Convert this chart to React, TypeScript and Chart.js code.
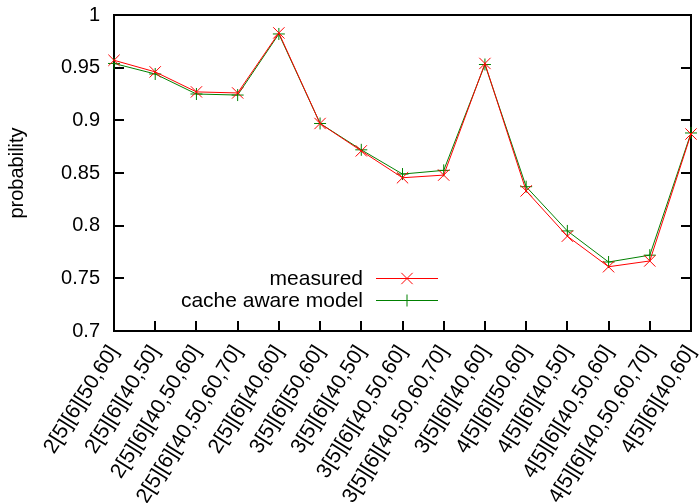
import React, { useEffect, useRef } from "react";
import { Chart, registerables } from "chart.js";

Chart.register(...registerables);

const categories = [
  "2[5][6][50,60]",
  "2[5][6][40,50]",
  "2[5][6][40,50,60]",
  "2[5][6][40,50,60,70]",
  "2[5][6][40,60]",
  "3[5][6][50,60]",
  "3[5][6][40,50]",
  "3[5][6][40,50,60]",
  "3[5][6][40,50,60,70]",
  "3[5][6][40,60]",
  "4[5][6][50,60]",
  "4[5][6][40,50]",
  "4[5][6][40,50,60]",
  "4[5][6][40,50,60,70]",
  "4[5][6][40,60]",
];

const measured = [0.957, 0.946, 0.927, 0.926, 0.983, 0.897, 0.871, 0.8455, 0.848, 0.954, 0.833, 0.79, 0.761, 0.7665, 0.887];
const cacheAwareModel = [0.954, 0.944, 0.925, 0.924, 0.982, 0.897, 0.872, 0.849, 0.8525, 0.953, 0.837, 0.795, 0.7655, 0.772, 0.888];

const yMin = 0.7;
const yMax = 1;
const yStep = 0.05;

const seriesNames = ["measured", "cache aware model"];
const seriesColors = ["#ff0000", "#008000"];
const FONT = "'Liberation Sans', Arial, sans-serif";

const framePlugin = {
  id: "frame",
  beforeDatasetsDraw(chart: any) {
    const { ctx, chartArea } = chart;
    const { left, right, top, bottom } = chartArea;
    const ys = chart.scales.y;
    const xs = chart.scales.x;
    ctx.save();
    ctx.strokeStyle = "#000";
    ctx.lineWidth = 2;
    ctx.beginPath();
    ys.ticks.forEach((t: any) => {
      const py = Math.round(ys.getPixelForValue(t.value));
      ctx.moveTo(left, py);
      ctx.lineTo(left + 10, py);
      ctx.moveTo(right, py);
      ctx.lineTo(right - 10, py);
    });
    categories.forEach((_, i) => {
      const px = Math.round(xs.getPixelForValue(i));
      ctx.moveTo(px, bottom);
      ctx.lineTo(px, bottom - 10);
    });
    ctx.stroke();
    ctx.strokeRect(left, top, right - left, bottom - top);
    ctx.restore();
  },
  afterDraw(chart: any) {
    const { ctx } = chart;
    const rows = [278, 300];
    const styles = ["crossRot", "cross"];
    const radii = [8, 6];
    ctx.save();
    ctx.font = `21px ${FONT}`;
    ctx.textAlign = "right";
    ctx.textBaseline = "middle";
    seriesNames.forEach((name, i) => {
      const y = rows[i];
      ctx.fillStyle = "#000";
      ctx.fillText(name, 363, y + 1);
      ctx.strokeStyle = seriesColors[i];
      ctx.lineWidth = 1;
      ctx.beginPath();
      ctx.moveTo(376, y + 0.5);
      ctx.lineTo(438, y + 0.5);
      if (styles[i] === "crossRot") {
        const d = radii[i] * Math.SQRT1_2;
        ctx.moveTo(407 - d, y + 0.5 - d);
        ctx.lineTo(407 + d, y + 0.5 + d);
        ctx.moveTo(407 - d, y + 0.5 + d);
        ctx.lineTo(407 + d, y + 0.5 - d);
      } else {
        ctx.moveTo(407, y + 0.5 - radii[i]);
        ctx.lineTo(407, y + 0.5 + radii[i]);
      }
      ctx.stroke();
    });
    ctx.restore();
  },
};

export default function App() {
  const ref = useRef<HTMLCanvasElement>(null);
  useEffect(() => {
    document.body.style.margin = "0";
    Chart.defaults.font.family = FONT;
    const chart = new Chart(ref.current!, {
      type: "line",
      data: {
        labels: categories,
        datasets: [
          {
            label: seriesNames[0],
            data: measured,
            borderColor: seriesColors[0],
            backgroundColor: seriesColors[0],
            borderWidth: 1,
            pointStyle: "crossRot",
            pointRadius: 8,
            pointBorderWidth: 1,
            pointBorderColor: seriesColors[0],
            tension: 0,
            clip: false as any,
          },
          {
            label: seriesNames[1],
            data: cacheAwareModel,
            borderColor: seriesColors[1],
            backgroundColor: seriesColors[1],
            borderWidth: 1,
            pointStyle: "cross",
            pointRadius: 6,
            pointBorderWidth: 1,
            pointBorderColor: seriesColors[1],
            tension: 0,
            clip: false as any,
          },
        ],
      },
      options: {
        animation: false,
        responsive: false,
        layout: { padding: { top: 15, right: 6, left: 0, bottom: 0 } },
        plugins: {
          legend: { display: false },
          tooltip: { enabled: false },
        },
        scales: {
          x: {
            type: "category",
            offset: false,
            grid: { display: false, drawTicks: false },
            border: { display: false },
            ticks: {
              color: "#000",
              font: { size: 21, family: FONT },
              minRotation: 58,
              maxRotation: 58,
              autoSkip: false,
              padding: 10,
            },
            afterFit(scale: any) {
              scale.height = 172;
              scale.paddingLeft = 0;
              scale.paddingRight = 0;
            },
          },
          y: {
            min: yMin,
            max: yMax,
            grid: { display: false, drawTicks: false },
            border: { display: false },
            ticks: {
              stepSize: yStep,
              color: "#000",
              font: { size: 20, family: FONT },
              padding: 14,
              callback: (v: any) => String(+Number(v).toFixed(2)),
            },
            title: {
              display: true,
              text: "probability",
              color: "#000",
              font: { size: 20, family: FONT },
              padding: { top: 5, bottom: 0 },
            },
            afterFit(scale: any) {
              scale.width = 114;
              scale.paddingTop = 0;
              scale.paddingBottom = 0;
            },
          },
        },
      },
      plugins: [framePlugin],
    });
    return () => chart.destroy();
  }, []);
  return (
    <div style={{ position: "absolute", left: 0, top: 0, width: 700, height: 503 }}>
      <canvas ref={ref} width={700} height={503} style={{ width: 700, height: 503 }} />
    </div>
  );
}
